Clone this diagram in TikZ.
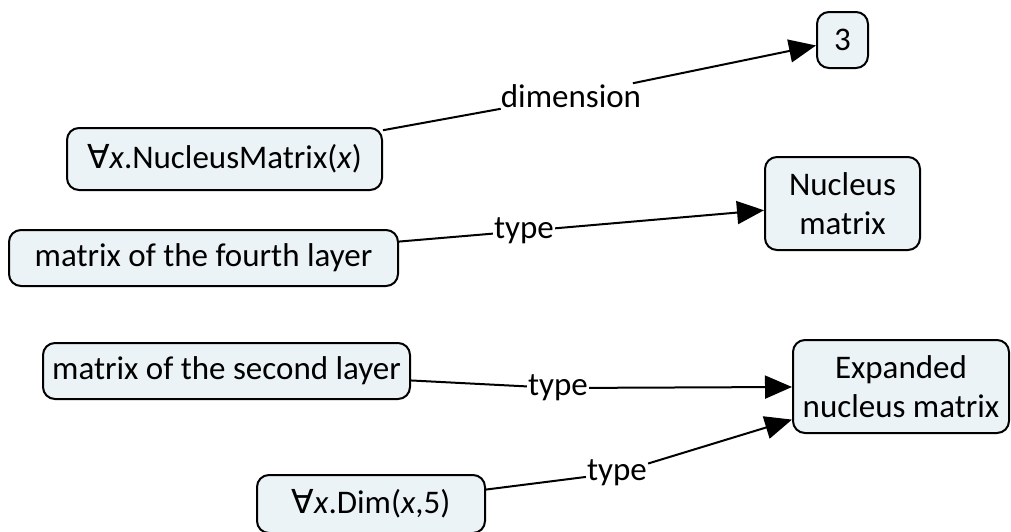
\documentclass[tikz,border=0pt]{standalone}
\usepackage{fontspec}
\setmainfont{Carlito}
\newfontfamily\symbolfont{DejaVu Sans}
\newcommand{\fa}{{\symbolfont ∀}}
\usepackage{tikz}
\usetikzlibrary{arrows.meta}
\definecolor{conceptfill}{RGB}{235,243,246}
\tikzset{%
    concept/.style={%
        draw, rounded corners=12pt, fill=conceptfill, line width=2pt, inner sep=0pt, align=center
    },
    linkword/.style={%
        fill=white, inner sep=1pt
    },
    link/.style={%
        line width=2pt
    },
    linkarrow/.style={%
        line width=2pt, -{Triangle[length=27pt,width=23pt]}
    }
}

\begin{document}
\begin{tikzpicture}[x=1pt, y=-1pt, font=\fontsize{33}{39}\selectfont]
    \useasboundingbox (0,0) rectangle (1011,531);

    \node[concept, minimum width=51pt, minimum height=56pt] (three) at (842.5,40) {3};
    \node[concept, minimum width=315pt, minimum height=62pt] (forallnucleus) at (224.5,159) {\fa\textit{x}.NucleusMatrix(\textit{x})};
    \node[concept, minimum width=155pt, minimum height=93pt] (nucleus) at (842.5,203.5) {Nucleus\\matrix};
    \node[concept, minimum width=389pt, minimum height=56pt] (fourth) at (203.5,258) {matrix of the fourth layer};
    \node[concept, minimum width=367pt, minimum height=56pt] (second) at (226.5,371) {matrix of the second layer};
    \node[concept, minimum width=216pt, minimum height=93pt] (expanded) at (901,386.5) {Expanded\\nucleus matrix};
    \node[concept, minimum width=228pt, minimum height=58pt] (foralldim) at (371,504) {\fa\textit{x}.Dim(\textit{x},5)};

    \node[linkword, inner xsep=10pt] (dimension) at (571,96) {dimension};
    \node[linkword] (type-1) at (524,231) {type};
    \node[linkword] (type-2) at (558,388) {type};
    \node[linkword] (type-3) at (617,473) {type};

    \draw[link] (forallnucleus) -- (dimension);
    \draw[linkarrow] (dimension) -- (three);
    \draw[link] (fourth) -- (type-1);
    \draw[linkarrow] (type-1) -- (nucleus);
    \draw[link] (second) -- (type-2);
    \draw[linkarrow] (type-2) -- (expanded);
    \draw[link] (foralldim) -- (type-3);
    \draw[linkarrow] (type-3) -- (expanded);
\end{tikzpicture}
\end{document}
